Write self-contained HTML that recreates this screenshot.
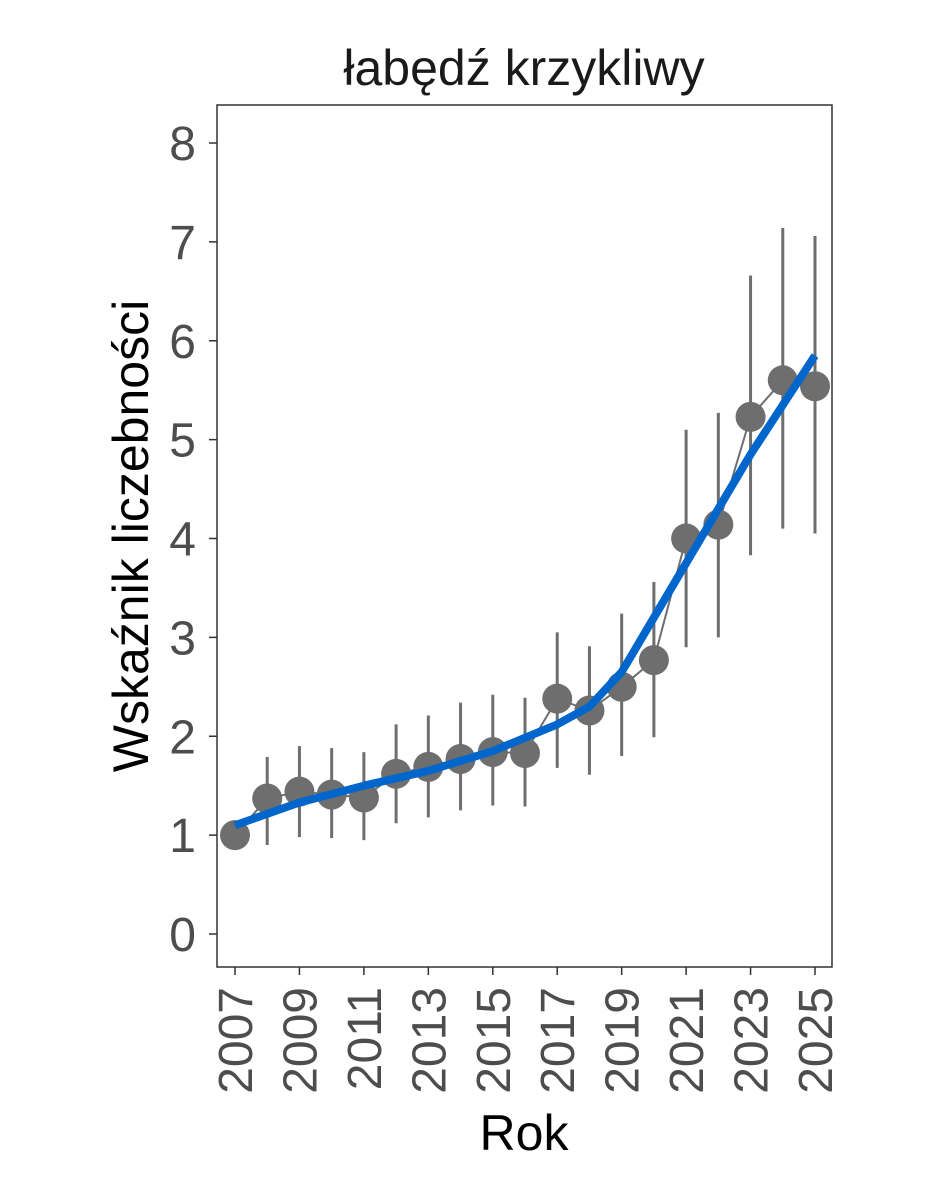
<!DOCTYPE html>
<html><head><meta charset="utf-8"><style>
body{margin:0;background:#fff}
svg text{font-family:"Liberation Sans",Arial,sans-serif}
</style></head><body>
<svg id="chart" width="944" height="1181" xmlns="http://www.w3.org/2000/svg">
<rect width="944" height="1181" fill="#fff"/>
<text x="524" y="85" font-size="50" text-anchor="middle" fill="#1a1a1a">łabędź krzykliwy</text>
<rect x="217" y="105" width="615" height="862" fill="none" stroke="#333" stroke-width="1.5"/>
<g id="yaxis"></g>
<g id="xaxis"></g>
<g id="marks"></g>
<text transform="translate(148,536) rotate(-90)" font-size="50" text-anchor="middle" fill="#000">Wskaźnik liczebności</text>
<text x="524" y="1150" font-size="50" text-anchor="middle" fill="#000">Rok</text>
</svg>
<script>
const years=[2007,2008,2009,2010,2011,2012,2013,2014,2015,2016,2017,2018,2019,2020,2021,2022,2023,2024,2025];
const values=[1.0,1.37,1.44,1.41,1.38,1.62,1.69,1.77,1.84,1.83,2.38,2.26,2.5,2.77,4.0,4.14,5.23,5.6,5.54];
const upper=[1.0,1.79,1.9,1.88,1.84,2.12,2.21,2.34,2.42,2.39,3.05,2.91,3.24,3.56,5.1,5.27,6.66,7.14,7.06];
const lower=[1.0,0.9,0.98,0.97,0.95,1.12,1.18,1.25,1.3,1.29,1.68,1.61,1.8,1.99,2.9,3.0,3.83,4.1,4.05];
const trendYears=[2007,2009,2011,2013,2015,2017,2018,2019,2020,2021,2022,2023,2024,2025];
const trend=[1.1,1.33,1.5,1.65,1.85,2.12,2.3,2.65,3.2,3.75,4.3,4.85,5.35,5.85];
const yTicks=[0,1,2,3,4,5,6,7,8];
const xTicks=[2007,2009,2011,2013,2015,2017,2019,2021,2023,2025];
const NS="http://www.w3.org/2000/svg";
const X=v=>235+(v-2007)*(580/18);
const Y=v=>934-v*98.875;
function mk(tag,attrs,parent){const e=document.createElementNS(NS,tag);for(const k in attrs)e.setAttribute(k,attrs[k]);parent.appendChild(e);return e;}
const ya=document.getElementById('yaxis'),xa=document.getElementById('xaxis'),m=document.getElementById('marks');
yTicks.forEach(t=>{
 const l=mk('line',{x1:209,x2:217,y1:Y(t),y2:Y(t),stroke:'#333','stroke-width':1.5},ya);
 
 
 const tx=mk('text',{x:196,y:Y(t)+17,'font-size':48,'text-anchor':'end',fill:'#4d4d4d'},ya);
 tx.textContent=t;
 
 
});
xTicks.forEach(t=>{
 const l=mk('line',{x1:X(t),x2:X(t),y1:967,y2:975,stroke:'#333','stroke-width':1.5},xa);
 
 
 const tx=mk('text',{transform:`translate(${X(t)+17},987) rotate(-90)`,'font-size':48,'text-anchor':'end',fill:'#4d4d4d'},xa);
 tx.textContent=t;
 
 
});
years.forEach((yr,i)=>{
 const e=mk('line',{x1:X(yr),x2:X(yr),y1:Y(upper[i]),y2:Y(lower[i]),stroke:'#6e6e6e','stroke-width':3},m);
 
 
});
const cl=mk('polyline',{points:years.map((yr,i)=>X(yr)+','+Y(values[i])).join(' '),fill:'none',stroke:'#6e6e6e','stroke-width':2},m);


years.forEach((yr,i)=>{
 const c=mk('circle',{cx:X(yr),cy:Y(values[i]),r:15,fill:'#6e6e6e'},m);
 
 
});
const tl=mk('polyline',{points:trendYears.map((yr,i)=>X(yr)+','+Y(trend[i])).join(' '),fill:'none',stroke:'#0066cc','stroke-width':8,'stroke-linejoin':'round'},m);


</script>
</body></html>
